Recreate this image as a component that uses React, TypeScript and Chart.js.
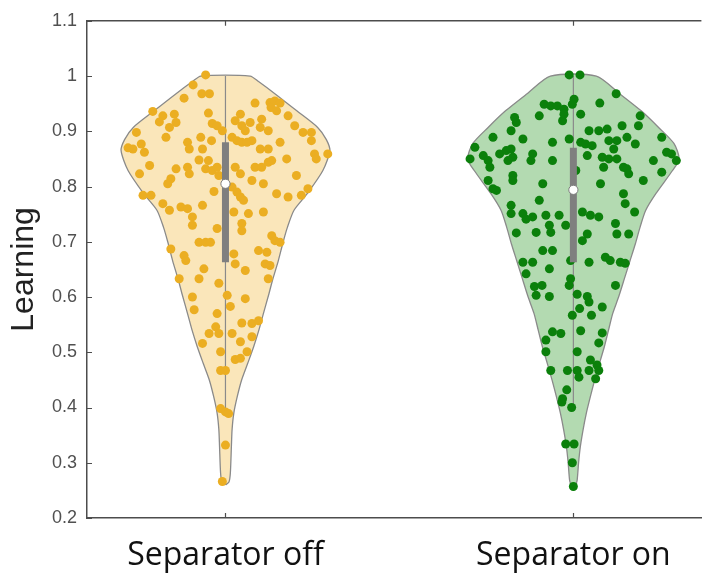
import { useEffect, useRef } from 'react';
import { Chart, registerables } from 'chart.js';

Chart.register(...registerables);

// Groups along the x axis (placed at x = 1, 2)
const categories = ['Separator off', 'Separator on'];
const yTickLabels = ['0.2', '0.3', '0.4', '0.5', '0.6', '0.7', '0.8', '0.9', '1', '1.1'];
const yAxisTitle = 'Learning';

// Violin outlines: value levels and density half-widths (x units)
const offLevels = [0.260, 0.265, 0.281, 0.329, 0.360, 0.390, 0.420, 0.449, 0.480, 0.510, 0.540, 0.570, 0.606, 0.630, 0.666, 0.700, 0.726, 0.757, 0.787, 0.829, 0.865, 0.885, 0.907, 0.937, 0.968, 0.990, 1.000];
const offHalfWidths = [0, 0.010, 0.014, 0.017, 0.019, 0.024, 0.034, 0.046, 0.064, 0.081, 0.096, 0.109, 0.125, 0.135, 0.152, 0.166, 0.178, 0.197, 0.235, 0.280, 0.300, 0.290, 0.265, 0.205, 0.142, 0.095, 0.071];
const onLevels = [0.250, 0.262, 0.269, 0.300, 0.329, 0.360, 0.389, 0.420, 0.449, 0.480, 0.510, 0.540, 0.570, 0.600, 0.636, 0.666, 0.696, 0.727, 0.757, 0.787, 0.829, 0.850, 0.878, 0.907, 0.937, 0.968, 1.000];
const onHalfWidths = [0, 0.008, 0.011, 0.015, 0.020, 0.028, 0.037, 0.049, 0.061, 0.075, 0.089, 0.101, 0.113, 0.130, 0.148, 0.163, 0.178, 0.192, 0.208, 0.237, 0.285, 0.304, 0.289, 0.245, 0.195, 0.133, 0.066];

// Box summaries: [q1, median, q3] and whisker ends [low, high]
const offQuartiles = [0.663, 0.805, 0.880];
const offWhiskers = [0.392, 1.0];
const onQuartiles = [0.663, 0.794, 0.870];
const onWhiskers = [0.400, 1.0];

// Individual observations: horizontal jitter and value
const offJitter = [
  -0.057, -0.093, -0.119, -0.068, -0.046, 0.085, 0.128, 0.142, 0.157, 0.131,
  0.147, -0.209, -0.180, -0.147, -0.142, -0.161, -0.190, -0.049, -0.038, -0.024,
  -0.009, 0.028, 0.043, 0.047, 0.071, 0.057, 0.100, 0.123, 0.104, 0.180,
  0.199, 0.223, 0.247, -0.256, -0.171, -0.242, -0.266, -0.280, -0.233, -0.109,
  -0.104, -0.071, -0.040, -0.066, 0.019, 0.033, 0.047, 0.062, 0.076, 0.157,
  0.100, 0.123, 0.247, 0.256, 0.294, 0.261, -0.247, -0.218, -0.142, -0.109,
  -0.104, -0.076, -0.049, -0.057, -0.038, -0.024, -0.019, 0.028, 0.043, 0.085,
  0.104, 0.123, 0.133, 0.176, 0.204, -0.157, -0.166, -0.237, -0.214, -0.180,
  -0.161, -0.128, -0.109, -0.066, -0.033, 0.019, 0.033, 0.043, 0.052, 0.076,
  0.109, 0.147, 0.180, 0.218, 0.237, 0.066, 0.024, 0.109, -0.095, -0.095,
  -0.157, -0.119, -0.114, -0.076, -0.057, -0.043, -0.024, 0.047, 0.047, 0.133,
  0.142, 0.157, 0.024, 0.095, 0.119, 0.114, 0.128, -0.133, -0.076, -0.062,
  0.057, 0.123, 0.028, -0.019, -0.095, 0.005, 0.057, -0.090, 0.014, -0.024,
  0.047, 0.076, 0.095, -0.028, -0.019, -0.047, 0.019, -0.066, 0.043, 0.076,
  -0.014, 0.062, 0.028, 0.043, -0.014, 0.000, -0.014, 0.000, 0.009, 0.000,
  -0.009,
];
const offValues = [
  1.002, 0.984, 0.960, 0.968, 0.968, 0.951, 0.952, 0.955, 0.951, 0.943,
  0.937, 0.936, 0.928, 0.931, 0.916, 0.907, 0.917, 0.933, 0.914, 0.910,
  0.901, 0.919, 0.931, 0.910, 0.916, 0.901, 0.907, 0.901, 0.922, 0.928,
  0.910, 0.898, 0.898, 0.898, 0.889, 0.877, 0.868, 0.870, 0.862, 0.880,
  0.868, 0.889, 0.883, 0.868, 0.889, 0.883, 0.880, 0.880, 0.883, 0.880,
  0.868, 0.868, 0.883, 0.859, 0.859, 0.850, 0.823, 0.838, 0.832, 0.835,
  0.823, 0.848, 0.847, 0.832, 0.829, 0.835, 0.820, 0.835, 0.823, 0.835,
  0.835, 0.844, 0.847, 0.850, 0.820, 0.814, 0.805, 0.784, 0.784, 0.769,
  0.757, 0.763, 0.760, 0.766, 0.791, 0.799, 0.790, 0.781, 0.775, 0.811,
  0.805, 0.787, 0.781, 0.784, 0.796, 0.751, 0.754, 0.754, 0.745, 0.730,
  0.687, 0.675, 0.666, 0.699, 0.699, 0.699, 0.724, 0.733, 0.720, 0.711,
  0.702, 0.699, 0.678, 0.684, 0.681, 0.660, 0.657, 0.633, 0.633, 0.651,
  0.648, 0.633, 0.660, 0.625, 0.600, 0.603, 0.597, 0.577, 0.583, 0.570,
  0.553, 0.552, 0.557, 0.546, 0.534, 0.534, 0.534, 0.516, 0.519, 0.528,
  0.501, 0.501, 0.487, 0.489, 0.467, 0.467, 0.398, 0.392, 0.389, 0.332,
  0.266,
];
const onJitter = [
  -0.012, 0.019, 0.123, 0.002, -0.003, -0.084, -0.065, -0.046, -0.027, 0.076,
  -0.031, -0.027, 0.021, -0.169, -0.164, -0.098, 0.192, 0.187, 0.140, -0.179,
  -0.231, -0.145, 0.045, 0.073, 0.097, 0.021, 0.035, 0.054, -0.012, -0.060,
  0.102, 0.125, 0.116, 0.154, 0.178, 0.254, -0.283, -0.297, -0.259, -0.245,
  -0.240, -0.212, -0.193, -0.179, -0.174, -0.188, -0.117, -0.122, -0.060, 0.040,
  0.083, 0.102, 0.087, 0.125, 0.144, 0.154, 0.159, 0.230, 0.268, 0.282,
  0.296, 0.254, -0.174, -0.174, -0.245, -0.231, -0.221, -0.088, 0.007, 0.078,
  0.201, 0.144, 0.149, 0.176, -0.098, -0.179, -0.179, -0.145, -0.136, -0.117,
  -0.079, -0.041, -0.069, -0.065, -0.164, -0.107, -0.022, 0.026, 0.049, 0.073,
  0.040, 0.026, 0.121, 0.125, 0.159, -0.088, -0.060, -0.069, -0.145, -0.117,
  -0.008, 0.045, 0.092, 0.106, 0.135, 0.149, -0.136, -0.008, -0.112, -0.090,
  -0.107, -0.069, -0.012, 0.011, 0.040, 0.045, 0.121, 0.083, 0.018, -0.003,
  0.052, -0.060, -0.036, 0.021, 0.083, 0.073, -0.079, -0.079, 0.011, 0.049,
  0.068, -0.065, -0.017, 0.011, 0.016, 0.045, 0.073, 0.064, -0.019, -0.031,
  -0.033, -0.005, -0.022, 0.002, -0.003, 0.000,
];
const onValues = [
  1.002, 1.002, 0.968, 0.958, 0.949, 0.949, 0.946, 0.946, 0.940, 0.951,
  0.919, 0.931, 0.931, 0.925, 0.916, 0.928, 0.928, 0.910, 0.910, 0.901,
  0.889, 0.886, 0.901, 0.901, 0.904, 0.880, 0.877, 0.874, 0.886, 0.880,
  0.883, 0.883, 0.868, 0.889, 0.877, 0.889, 0.871, 0.850, 0.856, 0.847,
  0.835, 0.859, 0.865, 0.868, 0.853, 0.847, 0.859, 0.847, 0.847, 0.856,
  0.853, 0.850, 0.835, 0.850, 0.835, 0.832, 0.823, 0.847, 0.862, 0.859,
  0.847, 0.826, 0.820, 0.811, 0.811, 0.796, 0.793, 0.805, 0.829, 0.805,
  0.811, 0.787, 0.769, 0.754, 0.775, 0.766, 0.751, 0.751, 0.741, 0.745,
  0.748, 0.748, 0.730, 0.717, 0.716, 0.717, 0.730, 0.754, 0.748, 0.745,
  0.714, 0.702, 0.733, 0.714, 0.714, 0.684, 0.684, 0.651, 0.663, 0.663,
  0.666, 0.663, 0.672, 0.666, 0.663, 0.661, 0.642, 0.633, 0.619, 0.621,
  0.603, 0.601, 0.621, 0.605, 0.601, 0.591, 0.621, 0.582, 0.579, 0.567,
  0.567, 0.537, 0.534, 0.539, 0.535, 0.517, 0.522, 0.501, 0.501, 0.486,
  0.477, 0.467, 0.467, 0.467, 0.455, 0.467, 0.467, 0.452, 0.432, 0.416,
  0.410, 0.400, 0.334, 0.334, 0.300, 0.257,
];

const AXIS_COLOR = '#4d4d4d';
const OUTLINE = '#8a8a8a';
const BOX_GREY = '#7f7f7f';

type Pt = { x: number; y: number };

// Closed outline: up the right side, across the top, down the left side
function violinShape(center: number, levels: number[], half: number[]): Pt[] {
  const right = levels.map((v, i) => ({ x: center + half[i], y: v }));
  const left = levels.map((v, i) => ({ x: center - half[i], y: v })).reverse();
  return [...right, ...left];
}

function groupDatasets(
  center: number,
  levels: number[],
  half: number[],
  quart: number[],
  whisk: number[],
  jitter: number[],
  values: number[],
  fillColor: string,
  dotColor: string,
) {
  return [
    {
      type: 'line' as const,
      data: violinShape(center, levels, half),
      showLine: true,
      fill: 'shape',
      backgroundColor: fillColor,
      borderColor: OUTLINE,
      borderWidth: 1.3,
      pointRadius: 0,
      tension: 0.25,
      order: 10,
    },
    {
      type: 'line' as const,
      data: [{ x: center, y: whisk[0] }, { x: center, y: whisk[1] }],
      showLine: true,
      fill: false,
      borderColor: OUTLINE,
      borderWidth: 1.2,
      pointRadius: 0,
      order: 8,
    },
    {
      type: 'scatter' as const,
      data: jitter.map((j, i) => ({ x: center + j, y: values[i] })),
      backgroundColor: dotColor,
      borderWidth: 0,
      pointRadius: 4.5,
      order: 6,
    },
    {
      type: 'line' as const,
      data: [{ x: center, y: quart[0] }, { x: center, y: quart[2] }],
      showLine: true,
      fill: false,
      borderColor: BOX_GREY,
      borderWidth: 7,
      borderCapStyle: 'butt' as const,
      pointRadius: 0,
      order: 4,
    },
    {
      type: 'scatter' as const,
      data: [{ x: center, y: quart[1] }],
      backgroundColor: '#ffffff',
      borderColor: BOX_GREY,
      borderWidth: 1,
      pointRadius: 4.6,
      order: 2,
    },
  ];
}

// Top frame line plus inward-pointing tick marks
const axisFrame = {
  id: 'axisFrame',
  beforeDatasetsDraw(chart: any) {
    const { ctx, chartArea: a, scales } = chart;
    const x = scales.x;
    const y = scales.y;
    ctx.save();
    ctx.strokeStyle = AXIS_COLOR;
    ctx.lineWidth = 1.5;
    ctx.beginPath();
    ctx.moveTo(a.left, a.top);
    ctx.lineTo(a.right, a.top);
    ctx.stroke();
    ctx.lineWidth = 1.2;
    ctx.beginPath();
    y.ticks.forEach((t: any) => {
      const py = Math.round(y.getPixelForValue(t.value)) + 0.5;
      ctx.moveTo(a.left, py);
      ctx.lineTo(a.left + 5, py);
    });
    x.ticks.forEach((t: any) => {
      const px = Math.round(x.getPixelForValue(t.value)) + 0.5;
      ctx.moveTo(px, a.bottom);
      ctx.lineTo(px, a.bottom - 5);
      ctx.moveTo(px, a.top);
      ctx.lineTo(px, a.top + 5);
    });
    ctx.stroke();
    ctx.restore();
  },
};

export default function App() {
  const canvasRef = useRef<HTMLCanvasElement | null>(null);

  useEffect(() => {
    const canvas = canvasRef.current;
    if (!canvas) return;
    const yTickValues = yTickLabels.map(Number);
    const chart = new Chart(canvas, {
      type: 'scatter',
      data: {
        datasets: [
          ...groupDatasets(1, offLevels, offHalfWidths, offQuartiles, offWhiskers, offJitter, offValues, '#FAE6BA', '#EBAE22'),
          ...groupDatasets(2, onLevels, onHalfWidths, onQuartiles, onWhiskers, onJitter, onValues, '#B3DAB1', '#0B800B'),
        ] as any,
      },
      options: {
        animation: false,
        responsive: false,
        devicePixelRatio: 1,
        events: [],
        layout: { padding: { top: 20, right: 0, bottom: 0, left: 0 } },
        plugins: {
          legend: { display: false },
          tooltip: { enabled: false },
        },
        scales: {
          x: {
            type: 'linear',
            min: 0.602,
            max: 2.368,
            grid: { display: false, drawTicks: false, tickLength: 0 },
            border: { display: true, color: AXIS_COLOR, width: 1.5 },
            afterBuildTicks: (s: any) => {
              s.ticks = categories.map((_, i) => ({ value: i + 1 }));
            },
            afterFit: (s: any) => {
              s.height = 61;
            },
            ticks: {
              padding: 19,
              color: '#111111',
              font: { family: '"Open Sans", "Noto Sans", sans-serif', size: 32 },
              callback: (_v: any, i: number) => categories[i],
              maxRotation: 0,
            },
          },
          y: {
            type: 'linear',
            min: 0.2,
            max: 1.1,
            grid: { display: false, drawTicks: false, tickLength: 0 },
            border: { display: true, color: AXIS_COLOR, width: 1.5 },
            afterBuildTicks: (s: any) => {
              s.ticks = yTickValues.map((v) => ({ value: v }));
            },
            afterFit: (s: any) => {
              s.width = 87;
            },
            ticks: {
              padding: 10,
              color: '#505050',
              font: { family: '"Liberation Sans", Arial, sans-serif', size: 18 },
              callback: (_v: any, i: number) => yTickLabels[i],
            },
            title: {
              display: true,
              text: yAxisTitle,
              color: '#222222',
              font: { family: '"Liberation Sans", Arial, sans-serif', size: 32 },
              padding: { top: 5, bottom: 0 },
            },
          },
        },
      },
      plugins: [axisFrame],
    });
    return () => chart.destroy();
  }, []);

  return (
    <div style={{ position: 'absolute', left: 0, top: 0, width: 707, height: 579, background: '#ffffff' }}>
      <canvas ref={canvasRef} width={707} height={579} style={{ display: 'block' }} />
    </div>
  );
}
